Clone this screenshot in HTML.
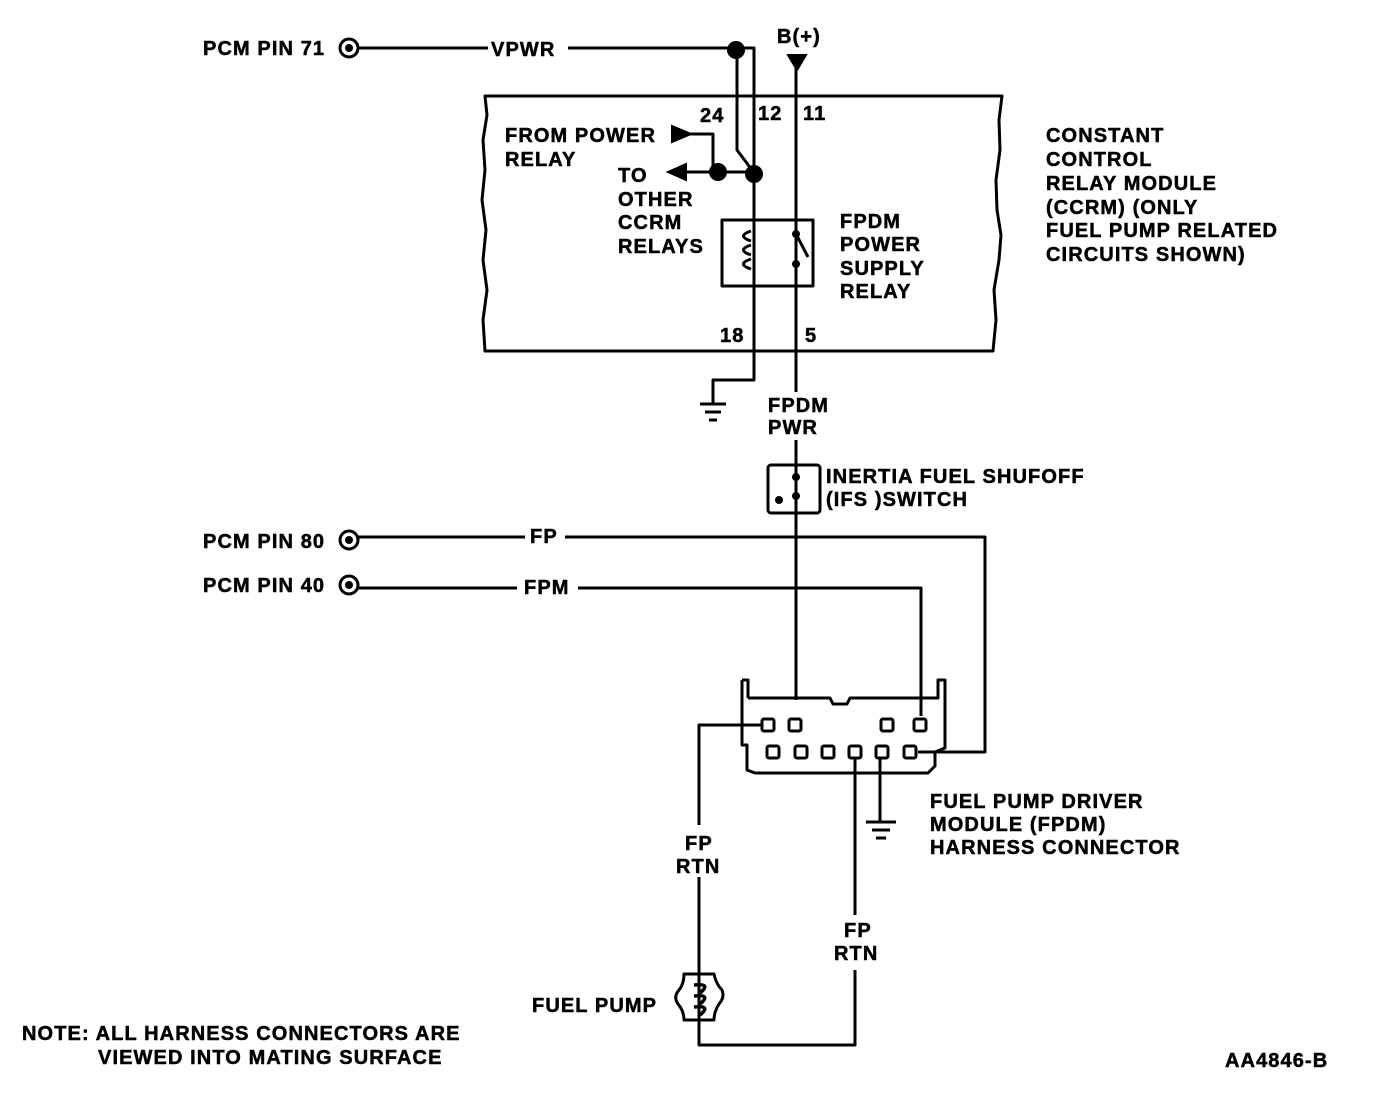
<!DOCTYPE html>
<html><head><meta charset="utf-8"><style>
html,body{margin:0;padding:0;background:#fff}
svg{display:block}
text{font-family:"Liberation Sans",sans-serif;font-weight:bold;font-size:20px;letter-spacing:1.1px;fill:#000;stroke:#000;stroke-width:0.5px}
</style></head><body>
<svg width="1376" height="1102" viewBox="0 0 1376 1102" xmlns="http://www.w3.org/2000/svg">
<g fill="none" stroke="#000" stroke-width="3" stroke-linejoin="round">
<path d="M485 96 L1002 96 L999 120 L1000 150 L996 180 L997 210 L1001 235 L999 260 L994 290 L996 320 L993 351 L485 351 L483 320 L487 290 L483 260 L486 230 L482 200 L485 170 L483 140 L487 115 Z"/>
<circle cx="349" cy="48" r="9"/>
<path d="M358 48 L488 48 M568 48 L754 48 L754 380 L713 380 L713 403"/>
<path d="M737 50 L737 150 L752 170"/>
<path d="M688 134 L713 134 L713 172 M670 172 L754 172"/>
<path d="M796 66 L796 392 M796 440 L796 700"/>
<rect x="722" y="220" width="91" height="66"/>
<path d="M796 234 L808 257"/>
<path d="M700 404 L726 404 M705 412 L721 412 M709 420 L717 420"/>
<rect x="768" y="465" width="52" height="48" rx="3"/>
<circle cx="349" cy="540" r="9"/>
<path d="M358 537 L525 537 M565 537 L985 537 L985 752 L918 752"/>
<circle cx="349" cy="585" r="9"/>
<path d="M358 588 L517 588 M578 588 L921 588 L921 716"/>
<path d="M742 680 L748 680 L748 698 M742 680 L742 745 L747 745 L747 770 L755 773 L928 773 L935 766 L935 752 L945 748 L945 680 L938 680 L938 698 L850 698 L847 704 L833 704 L830 698 L748 698"/>
<path d="M763 725 L699 725 L699 825 M699 877 L699 1045 L855 1045 L855 970 M855 915 L855 757 M880 757 L880 822"/>
<path d="M866 822 L896 822 M872 830 L890 830 M876 838 L886 838"/>
<path d="M684 974 L714 974 Q716 984 722 990 Q725 997 719 1004 Q714 1012 714 1020 L684 1020 Q684 1011 678 1004 Q673 997 679 990 Q684 984 684 974 Z"/>
<path d="M694 985 Q712 983 700 993 M694 996 Q712 994 700 1004 M694 1007 Q712 1005 700 1015" stroke-width="3.5"/>
<path d="M751 231 Q736 236 751 241 M751 245 Q736 250 751 255 M751 259 Q736 264 751 269" stroke-width="3"/>
</g>
<g fill="#000" stroke="#000" stroke-width="2">
<circle cx="349" cy="48" r="3"/><circle cx="349" cy="540" r="3"/><circle cx="349" cy="585" r="3"/>
<circle cx="736" cy="50" r="8"/><circle cx="754" cy="174" r="8"/><circle cx="718" cy="172" r="8"/>
<polygon points="788,55 806,55 797,70"/>
<polygon points="672,126 672,142 691,134"/>
<polygon points="668,172 686,164 686,180"/>
<circle cx="796" cy="234" r="3"/><circle cx="796" cy="264" r="3"/>
<circle cx="796" cy="477" r="3"/><circle cx="796" cy="496" r="3"/><circle cx="779" cy="500" r="3"/>
</g>
<g fill="#fff" stroke="#000" stroke-width="3">
<rect x="762" y="719" width="12" height="12" rx="2"/><rect x="789" y="719" width="12" height="12" rx="2"/>
<rect x="881" y="719" width="12" height="12" rx="2"/><rect x="914" y="719" width="12" height="12" rx="2"/>
<rect x="767" y="746" width="12" height="12" rx="2"/><rect x="795" y="746" width="12" height="12" rx="2"/>
<rect x="822" y="746" width="12" height="12" rx="2"/><rect x="849" y="746" width="12" height="12" rx="2"/>
<rect x="876" y="746" width="12" height="12" rx="2"/><rect x="904" y="746" width="12" height="12" rx="2"/>
</g>
<text x="203" y="55">PCM PIN 71</text>
<text x="491" y="56">VPWR</text>
<text x="777" y="43">B(+)</text>
<text x="700" y="122">24</text><text x="758" y="120">12</text><text x="803" y="120">11</text>
<text x="505" y="142">FROM POWER</text><text x="505" y="166">RELAY</text>
<text x="618" y="182">TO</text><text x="618" y="206">OTHER</text><text x="618" y="229">CCRM</text><text x="618" y="253">RELAYS</text>
<text x="840" y="228">FPDM</text><text x="840" y="251">POWER</text><text x="840" y="275">SUPPLY</text><text x="840" y="298">RELAY</text>
<text x="720" y="342">18</text><text x="805" y="342">5</text>
<text x="1046" y="142">CONSTANT</text><text x="1046" y="166">CONTROL</text><text x="1046" y="190">RELAY MODULE</text>
<text x="1046" y="214">(CCRM) (ONLY</text><text x="1046" y="237">FUEL PUMP RELATED</text><text x="1046" y="261">CIRCUITS SHOWN)</text>
<text x="768" y="412">FPDM</text><text x="768" y="434">PWR</text>
<text x="826" y="483">INERTIA FUEL SHUFOFF</text><text x="826" y="506">(IFS )SWITCH</text>
<text x="203" y="548">PCM PIN 80</text><text x="530" y="543">FP</text>
<text x="203" y="592">PCM PIN 40</text><text x="524" y="594">FPM</text>
<text x="930" y="808">FUEL PUMP DRIVER</text><text x="930" y="831">MODULE (FPDM)</text><text x="930" y="854">HARNESS CONNECTOR</text>
<text x="685" y="850">FP</text><text x="676" y="873">RTN</text>
<text x="844" y="937">FP</text><text x="834" y="960">RTN</text>
<text x="532" y="1012">FUEL PUMP</text>
<text x="22" y="1040">NOTE: ALL HARNESS CONNECTORS ARE</text>
<text x="98" y="1064">VIEWED INTO MATING SURFACE</text>
<text x="1225" y="1067">AA4846-B</text>
</svg>
</body></html>
